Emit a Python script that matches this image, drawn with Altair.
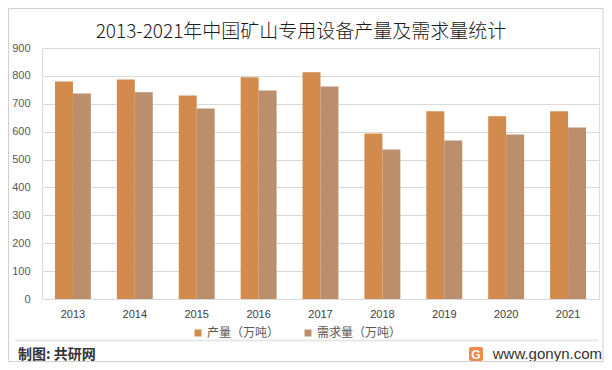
import altair as alt
import pandas as pd

years = ["2013", "2014", "2015", "2016", "2017", "2018", "2019", "2020", "2021"]
production = [780, 787, 730, 795, 813, 593, 673, 655, 673]
demand = [737, 741, 683, 748, 762, 536, 568, 590, 615]
series = ["产量（万吨）", "需求量（万吨）"]
colors = ["#D28B4D", "#BB8E6C"]
title_text = "2013-2021年中国矿山专用设备产量及需求量统计"
source_text = "制图: 共研网"
site_text = "www.gonyn.com"

rows = []
for y, p, d in zip(years, production, demand):
    rows.append({"year": y, "series": series[0], "value": p})
    rows.append({"year": y, "series": series[1], "value": d})
df = pd.DataFrame(rows)

W, H = 557, 251
CJK = "Noto Sans CJK SC"

bars = alt.Chart(df).mark_bar().encode(
    x=alt.X("year:N", sort=years, title=None,
            scale=alt.Scale(paddingInner=0.42, paddingOuter=0.21),
            axis=alt.Axis(labelAngle=0, ticks=False, domain=True, domainColor="#d9d9d9",
                          labelColor="#404040", labelFontSize=11, labelFont="Liberation Sans",
                          labelPadding=9, grid=False)),
    xOffset=alt.XOffset("series:N", sort=series, scale=alt.Scale(paddingInner=0, paddingOuter=0)),
    y=alt.Y("value:Q", title=None,
            scale=alt.Scale(domain=[0, 900], nice=False),
            axis=alt.Axis(values=list(range(0, 901, 100)), ticks=False, domain=False,
                          gridColor="#d9d9d9", labelColor="#595959", labelFontSize=11,
                          labelFont="Liberation Sans", labelPadding=12)),
    color=alt.Color("series:N", sort=series,
                    scale=alt.Scale(domain=series, range=colors),
                    legend=alt.Legend(title=None, orient="none", direction="horizontal",
                                      legendX=150, legendY=279, symbolType="square",
                                      symbolSize=49, symbolStrokeWidth=0, labelFont=CJK,
                                      labelFontSize=12, labelColor="#595959",
                                      columnPadding=22, labelOffset=3)),
)

one = pd.DataFrame({"k": [0]})

title = alt.Chart(one).mark_text(
    text=title_text, font=CJK, fontSize=19, fontWeight=300, color="#1a1a1a",
    align="center", baseline="middle"
).encode(x=alt.value(259), y=alt.value(-16))

sep = alt.Chart(one).mark_rule(color="#e8e8e8", strokeWidth=2).encode(
    x=alt.value(-27), x2=alt.value(556), y=alt.value(292.5), y2=alt.value(292.5))

source = alt.Chart(one).mark_text(
    text=source_text, font=CJK, fontSize=14, fontWeight="bold", color="#333333",
    align="left", baseline="middle"
).encode(x=alt.value(-24), y=alt.value(307))

site = alt.Chart(one).mark_text(
    text=site_text, font="Liberation Sans", fontSize=15, color="#333333",
    align="right", baseline="middle"
).encode(x=alt.value(560), y=alt.value(306))

logo = alt.Chart(one).mark_rect(color="#F08A4B", cornerRadius=2).encode(
    x=alt.value(427), x2=alt.value(441), y=alt.value(299), y2=alt.value(313))

logo_g = alt.Chart(one).mark_text(
    text="G", font="Liberation Sans", fontSize=12, fontWeight="bold", color="white",
    align="center", baseline="middle"
).encode(x=alt.value(434), y=alt.value(306.5))

border = alt.Chart(one).mark_rect(fillOpacity=0, stroke="#d0d0d0", strokeWidth=1).encode(
    x=alt.value(-33.5), x2=alt.value(561), y=alt.value(-39.5), y2=alt.value(313.5))

chart = alt.layer(bars, title, sep, source, logo, logo_g, site, border).properties(
    width=W, height=H,
    padding={"left": 34, "top": 40, "right": 5, "bottom": 63},
    autosize=alt.AutoSizeParams(type="none"),
).configure_view(stroke=None).configure(background="white")

chart.save("out.html", embed_options={"renderer": "svg", "actions": False})
